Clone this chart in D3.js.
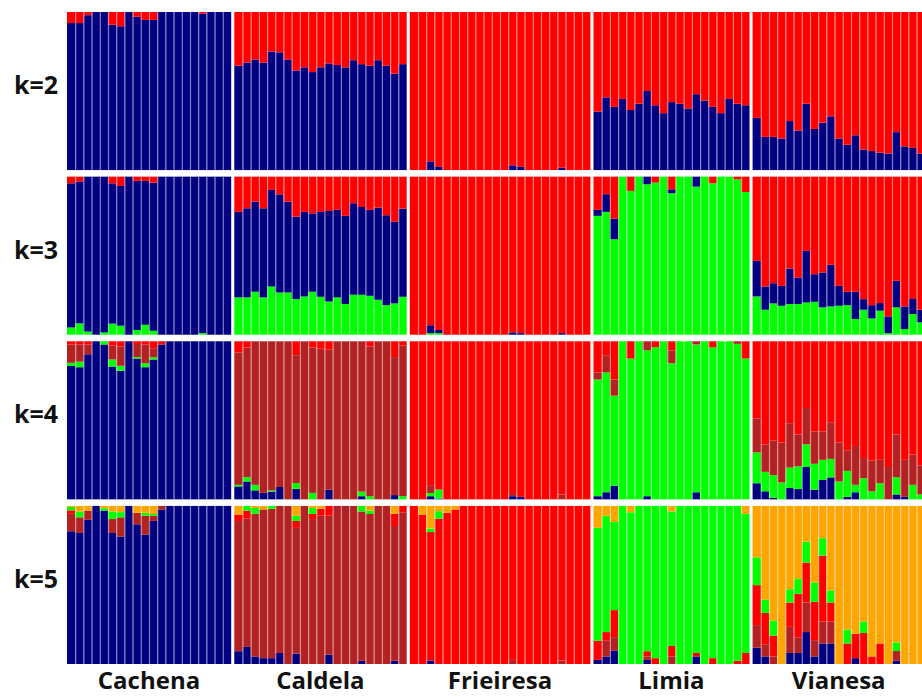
<!DOCTYPE html>
<html>
<head>
<meta charset="UTF-8">
<title>STRUCTURE plots k=2 to k=5</title>
<script src="https://cdn.jsdelivr.net/npm/d3@7"></script>
<style>
  body { margin:0; background:#fff; }
  text { font-family: "Open Sans", sans-serif; font-weight: bold; fill:#111; }
</style>
</head>
<body>
<svg id="viz" width="922" height="698"></svg>
<script>
// breeds and number of animals per breed
var breeds = ["Cachena", "Caldela", "Frieiresa", "Limia", "Vianesa"];
var breedSizes = [20, 21, 22, 19, 21];
var kLabels = ["k=2", "k=3", "k=4", "k=5"];

var clusterColors = {blue: "#000080", red: "#ff0000", green: "#00ff00", brown: "#b22222", orange: "#ffa500"};

// stacking order bottom -> top; the last cluster is what is left to 1
var k2Order = ["blue", "red"];
var k3Order = ["green", "blue", "red"];
var k4Order = ["blue", "green", "brown", "red"];
var k5Order = ["blue", "brown", "red", "green", "orange"];

// membership values, one per animal (Cachena | Caldela | Frieiresa | Limia | Vianesa)
var k2Blue = [
  0.93,0.93,0.98,1,1,0.92,0.91,1,0.97,0.95,0.95,1,1,1,1,1,0.99,1,1,1,
  0.66,0.68,0.70,0.68,0.75,0.745,0.70,0.63,0.65,0.62,0.65,0.675,0.665,0.65,0.695,0.67,0.66,0.695,0.66,0.61,0.67,
  0,0,0.055,0.02,0,0,0,0,0,0,0,0,0.03,0.02,0,0,0,0,0.015,0,0,0,
  0.37,0.46,0.40,0.45,0.38,0.42,0.50,0.41,0.36,0.43,0.42,0.39,0.48,0.44,0.40,0.36,0.45,0.42,0.41,
  0.33,0.21,0.21,0.20,0.31,0.25,0.42,0.26,0.30,0.34,0.20,0.16,0.22,0.13,0.12,0.11,0.105,0.24,0.15,0.14,0.105
];

var k3Green = [
  0.046,0.072,0.02,0,0.015,0.07,0.057,0,0.03,0.063,0.025,0,0,0,0,0,0.01,0,0,0,
  0.236,0.236,0.272,0.236,0.305,0.267,0.267,0.225,0.242,0.272,0.24,0.21,0.236,0.194,0.253,0.253,0.246,0.221,0.187,0.198,0.24,
  0,0,0.01,0.01,0,0,0,0,0,0,0,0,0,0,0,0,0,0,0,0,0,0,
  0.752,0.777,0.604,1,0.91,1,0.952,0.962,1,0.895,1,1,0.937,1,0.958,1,1,0.983,0.903,
  0.242,0.158,0.198,0.183,0.194,0.194,0.204,0.208,0.173,0.179,0.183,0.187,0.099,0.158,0.103,0.152,0.01,0.173,0.036,0.131,0.078
];
var k3Blue = [
  0.912,0.898,0.98,1,0.985,0.888,0.884,1,0.943,0.91,0.937,1,1,1,1,1,0.99,1,1,1,
  0.541,0.564,0.57,0.564,0.611,0.621,0.575,0.522,0.535,0.496,0.537,0.573,0.554,0.558,0.579,0.555,0.544,0.583,0.569,0.518,0.558,
  0,0,0.05,0.02,0,0,0,0,0,0,0,0,0.015,0.01,0,0,0,0,0.01,0,0,0,
  0.038,0.112,0.131,0,0,0,0.048,0,0,0.025,0,0,0.063,0,0,0,0,0,0,
  0.225,0.147,0.128,0.126,0.225,0.168,0.326,0.175,0.221,0.263,0.126,0.084,0.173,0.067,0.084,0.048,0.106,0.168,0.143,0.095,0.08
];

var k4Blue = [
  0.844,0.836,0.918,1,0.98,0.84,0.814,1,0.891,0.836,0.885,0.98,1,1,1,1,1,1,1,1,
  0.082,0.113,0.057,0.041,0.049,0.078,0,0.066,0,0,0,0.061,0,0,0,0.02,0,0,0,0.027,0,
  0,0,0.02,0.005,0,0,0,0,0,0,0,0,0.02,0.016,0,0,0,0,0,0,0,0,
  0.02,0.045,0.086,0,0,0,0.02,0,0,0,0,0,0.045,0,0,0,0,0,0,
  0.102,0.051,0.01,0,0.072,0.066,0.205,0.061,0.123,0.139,0,0.016,0.045,0,0,0,0,0.031,0.016,0,0
];
var k4Green = [
  0.02,0.035,0,0,0.02,0.045,0.031,0,0.01,0.025,0.014,0,0,0,0,0,0,0,0,0,
  0.01,0.027,0.035,0,0.008,0,0,0.037,0,0.041,0,0,0,0,0,0.029,0.02,0,0,0,0.02,
  0,0,0.02,0.057,0,0,0,0,0,0,0,0,0,0,0,0,0,0,0,0,0,0,
  0.738,0.758,0.57,1,0.891,1,0.923,0.963,1,0.861,1,1,0.935,1,0.963,1,1,0.984,0.891,
  0.195,0.123,0.143,0.107,0.129,0.143,0.143,0.164,0.127,0.117,0.113,0.164,0.047,0.133,0.051,0.102,0,0.109,0,0.092,0.031
];
var k4Brown = [
  0.115,0.109,0.061,0,0,0.088,0.123,0,0.082,0.119,0.057,0,0,0,0,0,0,0,0,0,
  0.838,0.82,0.908,0.959,0.943,0.922,1,0.809,1,0.919,0.953,0.886,1,1,1,0.951,0.947,1,1,0.873,0.953,
  0,0,0.05,0,0,0,0,0,0,0,0,0,0.02,0,0,0,0,0,0.03,0,0,0,
  0.045,0.109,0.102,0,0,0,0.057,0,0,0.082,0,0,0.02,0,0,0,0,0.016,0,
  0.215,0.174,0.219,0.252,0.281,0.201,0.23,0.205,0.18,0.232,0.246,0.131,0.246,0.129,0.195,0.148,0.205,0.27,0.234,0.191,0.184
];

var k5Blue = [
  0.84,0.829,0.912,1,0.971,0.829,0.807,1,0.884,0.818,0.905,0.978,1,1,1,1,1,1,1,1,
  0.081,0.108,0.048,0.037,0.037,0.07,0,0.066,0,0,0,0.059,0,0,0,0.02,0,0,0,0.02,0,
  0,0,0.022,0,0,0,0,0,0,0,0,0,0,0,0,0,0,0,0,0,0,0,
  0.026,0.048,0.086,0,0,0,0.026,0,0,0,0,0,0.048,0,0,0,0,0,0,
  0.103,0.048,0,0,0.07,0.07,0.202,0.048,0.13,0.13,0,0,0.037,0,0,0,0,0.02,0,0,0
];
var k5Brown = [
  0.11,0.099,0.059,0,0,0.088,0.121,0,0.073,0.121,0.033,0.022,0,0,0,0,0,0,0,0,
  0.824,0.813,0.902,0.941,0.945,0.93,1,0.795,1,0.917,0.938,0.879,1,1,1,0.945,0.949,1,1,0.853,0.96,
  0,0,0,0,0,0,0,0,0,0,0,0,0.026,0,0,0,0,0,0.022,0,0,0,
  0,0.099,0.084,0,0,0,0.022,0,0,0.048,0,0,0,0,0,0,0,0,0,
  0.143,0.077,0.048,0,0.165,0.099,0.187,0.103,0.138,0.138,0,0,0,0,0,0,0,0.062,0,0,0
];
var k5Red = [
  0.022,0,0,0,0,0,0,0,0,0,0,0,0,0,0,0,0,0,0,0,
  0.04,0.05,0,0,0,0,0,0.044,0,0.033,0.044,0.062,0,0,0,0,0,0,0,0.077,0.04,
  1,0.945,0.813,0.919,0.956,0.978,1,1,1,1,1,1,0.974,1,1,1,1,1,0.978,1,1,1,
  0.121,0.055,0.171,0,0,0,0.033,0.037,0,0.066,0,0,0.022,0,0.037,0,0,0.02,0.07,
  0.253,0.198,0.132,0,0.154,0.275,0.253,0.242,0.418,0.121,0,0.13,0.154,0.196,0.048,0.13,0,0,0,0,0
];
var k5Green = [
  0.022,0.037,0,0,0.015,0.048,0.033,0,0,0.018,0.011,0,0,0,0,0,0,0,0,0,
  0,0.029,0.037,0,0.018,0,0,0.033,0,0.037,0,0,0,0,0,0.035,0.022,0,0,0,0,
  0,0,0.022,0.048,0,0,0,0,0,0,0,0,0,0,0,0,0,0,0,0,0,0,
  0.715,0.736,0.558,1,0.96,1,0.919,0.963,1,0.851,1,1,0.93,1,0.963,1,1,0.98,0.88,
  0.176,0.084,0.095,0,0.084,0.095,0.132,0.123,0.11,0.077,0,0.088,0,0.073,0,0,0,0.055,0,0,0
];

var panels = [
  {k: "k=2", order: k2Order, values: {blue: k2Blue}},
  {k: "k=3", order: k3Order, values: {green: k3Green, blue: k3Blue}},
  {k: "k=4", order: k4Order, values: {blue: k4Blue, green: k4Green, brown: k4Brown}},
  {k: "k=5", order: k5Order, values: {blue: k5Blue, brown: k5Brown, red: k5Red, green: k5Green}}
];

var total = d3.sum(breedSizes);
panels.forEach(function(p) {
  Object.keys(p.values).forEach(function(key) {
    if (p.values[key].length != total) throw new Error(p.k + " " + key + " has " + p.values[key].length);
  });
});

// one entry per animal
var animals = [];
breeds.forEach(function(b, bi) {
  for (var j = 0; j < breedSizes[bi]; j++) animals.push({i: animals.length, bi: bi, first: j == 0});
});

var svg = d3.select("#viz");
var left = 67, barW = 8.2, gap = 3.3;

var x = d3.scaleLinear().domain([0, total]).range([left, left + total * barW]);
function xPos(d) { return x(d.i) + d.bi * gap; }

var y = d3.scaleBand().domain(kLabels).range([12, 664]).paddingInner(0.04);

panels.forEach(function(p) {
  var rows = animals.map(function(a) {
    var r = {i: a.i, bi: a.bi}, s = 0;
    p.order.forEach(function(key, ki) {
      if (ki < p.order.length - 1) { r[key] = p.values[key][a.i]; s += r[key]; }
    });
    r[p.order[p.order.length - 1]] = Math.max(0, 1 - s);
    return r;
  });

  var yv = d3.scaleLinear().domain([0, 1]).range([y(p.k) + y.bandwidth(), y(p.k)]);
  var series = d3.stack().keys(p.order)(rows);

  var g = svg.append("g").attr("class", "row");
  g.selectAll(".serie")
    .data(series)
    .enter().append("g")
      .attr("fill", function(d) { return clusterColors[d.key]; })
    .selectAll("rect")
    .data(function(d) { return d; })
    .enter().append("rect")
      .attr("x", function(d) { return xPos(d.data); })
      .attr("width", barW + 0.2)
      .attr("y", function(d) { return yv(Math.min(1, d[1])); })
      .attr("height", function(d) { return Math.max(0, yv(d[0]) - yv(Math.min(1, d[1]))); });

  // pale separators between animals
  g.selectAll(".sep")
    .data(animals.filter(function(a) { return !a.first; }))
    .enter().append("line")
      .attr("x1", function(d) { return xPos(d) + 0.5; })
      .attr("x2", function(d) { return xPos(d) + 0.5; })
      .attr("y1", y(p.k))
      .attr("y2", y(p.k) + y.bandwidth())
      .attr("stroke", "#fff")
      .attr("stroke-opacity", 0.5)
      .attr("stroke-width", 1.2);

  svg.append("text")
    .attr("x", 36)
    .attr("y", y(p.k) + y.bandwidth() / 2 + 3)
    .attr("text-anchor", "middle")
    .style("font-size", "25px")
    .text(p.k);
});

// breed names under the panels
breeds.forEach(function(b, bi) {
  var members = animals.filter(function(a) { return a.bi == bi; });
  var x0 = xPos(members[0]), x1 = xPos(members[members.length - 1]) + barW;
  svg.append("text")
    .attr("x", (x0 + x1) / 2)
    .attr("y", 689)
    .attr("text-anchor", "middle")
    .style("font-size", "24px")
    .text(b);
});
</script>
</body>
</html>
